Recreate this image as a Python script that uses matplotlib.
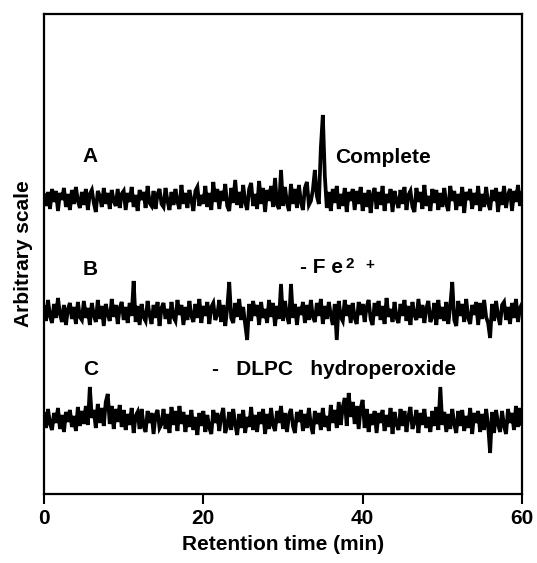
import numpy as np
import matplotlib
matplotlib.use('Agg')
import matplotlib.pyplot as plt

plt.rcParams['font.family'] = ['Liberation Sans', 'DejaVu Sans']
plt.rcParams['font.weight'] = 'bold'
plt.rcParams['axes.labelweight'] = 'bold'

# detector trace deviations, 0.25 min steps from 0 to 60 min
trace_a = [3, -8, 6, -11, 9, -4, 7, -13, 5, -2, 10, -9, 4, -12, 8, -6, 11, -3, -10, 6,
           -7, 9, -12, 4, 8, -5, -14, 7, 2, -9, 10, -6, 5, -11, 8, -3, -8, 9, -10, 4,
           7, -12, 5, -4, 11, -9, 3, -13, 8, -2, 6, -10, 12, -5, -8, 7, -11, 4, 9, -6,
           -9, 10, -3, -12, 6, -7, 9, -4, -11, 13, -6, 5, -10, 8, -2, -13, 7, 11, -8, 3,
           -6, 12, -9, 5, -12, 16, -4, 9, -11, 7, -3, 14, -8, -13, 10, -5, 18, -7, 6, -10,
           13, -4, -12, 9, 15, -8, 4, -11, 17, -6, 10, -14, 8, -3, 12, -9, 20, -7, -11, 28,
           -8, 11, -5, -13, 14, -6, 9, -10, 13, -4, -12, 10, 16, -7, -3, 8, 28, 2, -6, 50,
           83, 22, -10, 6, -13, 9, -5, 12, -11, 4, -8, 10, -14, 6, -3, 9, -12, 7, -6, 11,
           -13, 5, -9, 8, -15, 3, 10, -11, 6, -7, 12, -13, 4, -5, 9, -14, 7, -3, -10, 8,
           -6, 11, -12, 3, 7, -9, -14, 10, -4, 6, -11, 13, -8, 2, -13, 9, -5, 8, -12, 5,
           -9, 10, -6, -13, 12, -3, 7, -12, 4, -8, 11, -15, 6, -2, 9, -11, 5, -7, 12, -13,
           4, -9, 11, -5, -12, 8, -3, 10, -14, 6, -7, 12, -10, 3, 9, -13, 7, -4, 13, -8,
           5]

trace_b = [5, -9, 12, -4, -11, 8, -6, 14, -2, -10, 7, -13, 3, 9, -7, 5, -12, 10, -5, -8,
           11, -6, 4, -13, 9, -3, -10, 12, -7, 6, -14, 8, -2, -9, 13, -5, 7, -12, 4, 10,
           -8, 5, -11, 9, -4, 31, -10, 6, -13, 8, -5, -9, 11, -3, -12, 7, -6, 10, -14, 4,
           9, -7, 3, -12, 10, -5, -9, 12, -3, 7, -13, 5, -8, 11, -4, -10, 8, -6, 13, -11,
           6, -4, 10, -12, 5, 9, -8, -3, 12, -10, 7, -14, 4, 30, -6, -11, 9, -5, 13, -8,
           5, -12, -28, 8, -9, 11, -4, 7, -13, 10, -6, 3, -11, 12, -5, 9, -14, 6, -7, 28,
           -9, 11, -4, -12, 28, -6, 8, -13, 5, -3, 10, -11, 7, -8, 12, -5, -10, 9, -4, 13,
           -12, 6, -7, 10, -3, -13, 8, -28, 11, -5, -9, 12, -4, 7, -11, 9, -6, -12, 10, -3,
           8, -10, 5, 12, -7, -13, 9, -4, 11, -8, 6, -12, 14, -5, 3, -10, 10, -6, -11, 8,
           -4, 12, -9, 6, -13, 10, -3, -8, 13, -6, 7, -11, 4, 11, -10, -5, 9, -13, 12, -7,
           5, -9, 10, -12, 6, 30, -8, -14, 11, -4, 8, -10, 13, -6, -12, 7, -3, 10, -13, 9,
           -7, 12, -5, -11, -26, 8, -9, 11, -4, -13, 7, 10, -8, 5, -12, 9, -6, 13, -10, 4,
           8]

trace_c = [6, -8, 11, -4, -10, 7, -3, 12, -9, 5, -12, 8, -2, 10, -7, 4, -11, 13, -6, 9,
           -4, 14, -5, 33, 2, 10, -8, 16, -3, 12, -6, 18, 26, -4, 14, -9, 11, -2, 15, -7,
           10, -10, 6, -5, 12, -13, 4, 8, -9, 11, -6, -12, 9, -3, 7, -14, 5, 10, -8, -4,
           11, -9, 6, -13, 13, -5, 9, -11, 14, -4, 8, -12, 5, -7, 10, -10, 3, -15, 7, -6,
           9, -12, 5, -8, -14, 10, -3, 7, -11, 4, 12, -13, -6, 8, -10, 11, -4, -15, 6, -8,
           10, -13, 3, -7, 13, -10, 5, -12, 8, -4, 11, -14, 6, -9, 12, -5, -11, 9, -3, 14,
           -9, 7, -12, 5, 11, -6, -13, 8, -2, 10, -11, 6, -8, 12, -5, -14, 9, -4, 7, -10,
           12, -7, 4, -11, 15, -3, 10, -8, 18, -5, 13, 22, -6, 27, 3, 18, -4, 14, -9, 12,
           20, -8, 11, -12, 6, -5, 9, -13, 7, -3, 10, -11, 5, -7, 12, -14, 8, -4, -10, 11,
           -6, 9, -12, 4, 13, -9, -2, 10, -13, 7, -5, 11, -8, 3, -12, 9, -6, 13, -10, 33,
           -5, 8, -12, 6, -9, 11, -4, -13, 9, -6, 10, -11, 4, -8, 12, -14, 7, -3, 9, -12,
           6, -10, 11, -5, -33, 8, -13, 10, -4, -12, 9, -6, -14, 11, -3, 7, -10, 14, -7, 12,
           -4]

traces = [trace_a, trace_b, trace_c]
offsets = [296, 182, 74]  # vertical stacking of the three runs

fig = plt.figure(figsize=(5.37, 5.63), dpi=100)
ax = fig.add_axes([0.082, 0.1226, 0.890, 0.8526])

for tr, off in zip(traces, offsets):
    t = np.linspace(0, 60, len(tr))
    ax.plot(t, np.array(tr) + off, color='black', lw=2.7, solid_joinstyle='miter')

fs = 15
ax.text(5.8, 337, 'A', fontsize=fs, ha='center', va='center')
ax.text(36.5, 336, 'Complete', fontsize=fs, ha='left', va='center')
ax.text(5.8, 224, 'B', fontsize=fs, ha='center', va='center')
ax.text(32.1, 226, '- F e', fontsize=fs, ha='left', va='center')
ax.text(37.9, 230, '2', fontsize=11, ha='left', va='center')
ax.text(40.3, 229, '+', fontsize=11, ha='left', va='center')
ax.text(5.8, 124, 'C', fontsize=fs, ha='center', va='center')
ax.text(21.1, 124, '-   DLPC   hydroperoxide', fontsize=fs, ha='left', va='center')

ax.set_xlim(0, 60)
ax.set_ylim(0, 480)
ax.set_xticks([0, 20, 40, 60])
ax.set_yticks([])
ax.tick_params(axis='x', direction='out', length=7, width=1.5, pad=4, labelsize=fs)
for sp in ax.spines.values():
    sp.set_linewidth(1.6)
ax.set_xlabel('Retention time (min)', fontsize=fs, labelpad=5)
ax.set_ylabel('Arbitrary scale', fontsize=fs, labelpad=8)

fig.savefig('out.png', dpi=100)
